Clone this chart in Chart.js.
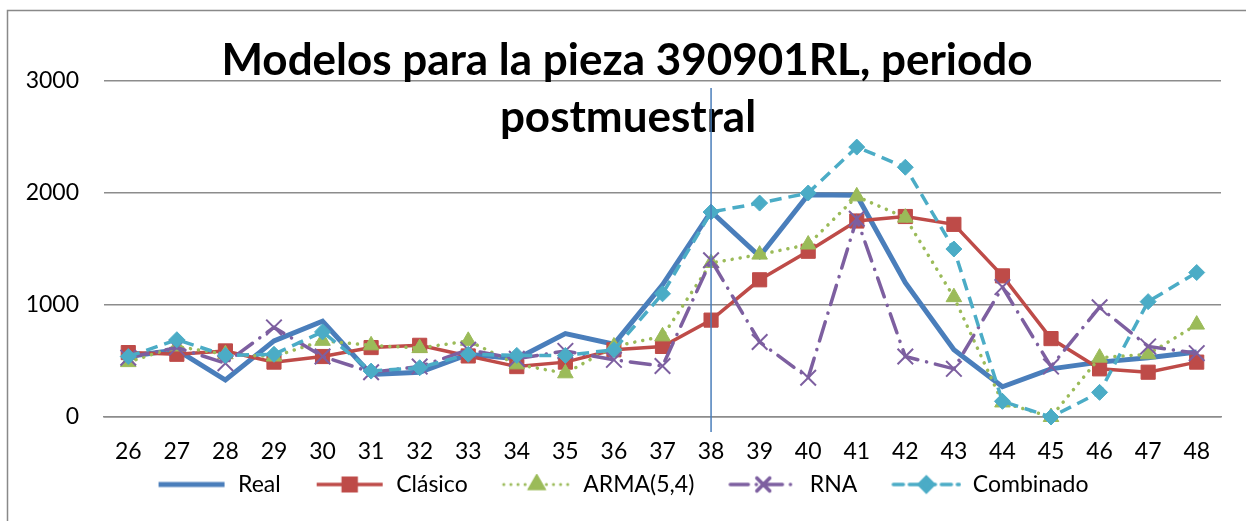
<!DOCTYPE html>
<html>
<head>
<meta charset="utf-8">
<script src="https://cdn.jsdelivr.net/npm/chart.js@4/dist/chart.umd.min.js"></script>
<style>
  html, body { margin: 0; padding: 0; background: #fff; }
  #grafico { display: block; }
</style>
</head>
<body>
<canvas id="grafico" width="1246" height="521"></canvas>
<script>
// Periodos postmuestrales (eje x)
var periodos = ["26", "27", "28", "29", "30", "31", "32", "33", "34", "35", "36", "37",
                "38", "39", "40", "41", "42", "43", "44", "45", "46", "47", "48"];

// Series de cada modelo
var real      = [540, 600, 330, 680, 855, 380, 400, 560, 520, 745, 650, 1180,
                 1835, 1435, 1985, 1980, 1200, 600, 270, 430, 490, 530, 580];
var clasico   = [575, 560, 590, 490, 540, 620, 640, 545, 450, 490, 600, 630,
                 865, 1225, 1480, 1750, 1790, 1720, 1260, 700, 430, 400, 490];
var arma      = [490, 630, 560, 540, 680, 640, 615, 680, 470, 390, 630, 720,
                 1375, 1450, 1540, 1970, 1780, 1070, 130, 0, 530, 560, 825];
var rna       = [530, 620, 480, 800, 540, 400, 450, 600, 520, 590, 510, 455,
                 1400, 670, 350, 1770, 540, 430, 1160, 450, 980, 630, 570];
var combinado = [540, 690, 550, 560, 760, 410, 440, 560, 550, 550, 600, 1100,
                 1830, 1910, 2000, 2410, 2230, 1500, 140, 0, 220, 1030, 1290];

var ticksY = [0, 1000, 2000, 3000];
var periodoCorte = "38";

var fuente = "Lato, 'Open Sans', sans-serif";

// Icono de leyenda: trazo de la serie con su marcador en medio
// (los 24 px de la izquierda quedan vacíos para separar las entradas)
function iconoLeyenda(color, grosor, trazos, marcador, radio) {
  var c = document.createElement("canvas");
  c.width = 94;
  c.height = 22;
  var ctx = c.getContext("2d");
  ctx.strokeStyle = color;
  ctx.fillStyle = color;
  ctx.lineWidth = grosor;
  ctx.lineCap = trazos.length ? "round" : "butt";
  ctx.setLineDash(trazos);
  ctx.beginPath();
  ctx.moveTo(26, 11);
  ctx.lineTo(92, 11);
  ctx.stroke();
  ctx.setLineDash([]);
  if (marcador) {
    Chart.helpers.drawPoint(ctx, {
      pointStyle: marcador, radius: radio, rotation: 0,
      borderWidth: marcador === "crossRot" ? 2 : 1
    }, 59, 11);
    ctx.fill();
    ctx.stroke();
  }
  return c;
}

var iconos = [
  iconoLeyenda("#4A7EBB", 5, [], null, 0),
  iconoLeyenda("#BE4B48", 3.5, [], "rect", 9),
  iconoLeyenda("#9BBB59", 3, [0.1, 7], "triangle", 8),
  iconoLeyenda("#7D5FA0", 3.5, [18, 8, 0.1, 8], "crossRot", 9),
  iconoLeyenda("#4BACC6", 3.5, [10, 6], "rectRot", 7)
];

// Marco, título superpuesto y línea vertical del corte
var decoracion = {
  id: "decoracion",
  afterDatasetsDraw: function(chart) {
    var ctx = chart.ctx;
    var area = chart.chartArea;
    ctx.save();

    ctx.fillStyle = "#000";
    ctx.font = "bold 44px " + fuente;
    ctx.textAlign = "center";
    ctx.textBaseline = "alphabetic";
    ctx.fillText("Modelos para la pieza 390901RL, periodo", 627, 75);
    ctx.fillText("postmuestral", 628, 132);

    var x = chart.scales.x.getPixelForValue(periodos.indexOf(periodoCorte));
    ctx.strokeStyle = "#4A7EBB";
    ctx.lineWidth = 1.5;
    ctx.beginPath();
    ctx.moveTo(x, area.top + 7);
    ctx.lineTo(x, area.bottom + 15);
    ctx.stroke();

    ctx.strokeStyle = "#898989";
    ctx.lineWidth = 1.5;
    ctx.beginPath();
    ctx.moveTo(7.5, chart.height);
    ctx.lineTo(7.5, 10.5);
    ctx.lineTo(chart.width, 10.5);
    ctx.stroke();
    ctx.restore();
  }
};

var grafico = new Chart(document.getElementById("grafico"), {
  type: "line",
  data: {
    labels: periodos,
    datasets: [
      {
        label: "Real",
        data: real,
        borderColor: "#4A7EBB",
        backgroundColor: "#4A7EBB",
        borderWidth: 5,
        pointRadius: 0,
        order: 5
      },
      {
        label: "Clásico",
        data: clasico,
        borderColor: "#BE4B48",
        backgroundColor: "#BE4B48",
        borderWidth: 3.5,
        pointStyle: "rect",
        pointRadius: 10,
        pointBorderWidth: 1,
        order: 4
      },
      {
        label: "ARMA(5,4)",
        data: arma,
        borderColor: "#9BBB59",
        backgroundColor: "#9BBB59",
        borderWidth: 3.5,
        borderDash: [0.1, 8],
        borderCapStyle: "round",
        pointStyle: "triangle",
        pointRadius: 9,
        pointBorderWidth: 1,
        order: 3
      },
      {
        label: "RNA",
        data: rna,
        borderColor: "#7D5FA0",
        backgroundColor: "#7D5FA0",
        borderWidth: 3.5,
        borderDash: [20, 9, 0.1, 9],
        borderCapStyle: "round",
        pointStyle: "crossRot",
        pointRadius: 11,
        pointBorderWidth: 2,
        order: 2
      },
      {
        label: "Combinado",
        data: combinado,
        borderColor: "#4BACC6",
        backgroundColor: "#4BACC6",
        borderWidth: 3.5,
        borderDash: [12, 7],
        pointStyle: "rectRot",
        pointRadius: 8,
        pointBorderWidth: 1,
        order: 1
      }
    ]
  },
  options: {
    responsive: false,
    animation: false,
    devicePixelRatio: 1,
    datasets: { line: { tension: 0, fill: false, clip: false } },
    layout: { padding: { left: 0, right: 25, top: 81, bottom: 15 } },
    scales: {
      x: {
        offset: true,
        grid: { display: false, drawTicks: false },
        border: { display: true, color: "#8c8c8c", width: 1.5 },
        ticks: { color: "#000", font: { family: fuente, size: 23 }, padding: 21, maxRotation: 0, autoSkip: false },
        afterFit: function(scale) { scale.height = 46; }
      },
      y: {
        min: 0,
        max: 3000,
        afterBuildTicks: function(scale) {
          scale.ticks = ticksY.map(function(v) { return { value: v }; });
        },
        grid: { color: "#8c8c8c", lineWidth: 1.5, drawTicks: false },
        border: { display: false },
        ticks: {
          color: "#000",
          font: { family: fuente, size: 23 },
          padding: 25,
          callback: function(valor) { return String(valor); }
        },
        afterFit: function(scale) { scale.width = 104; }
      }
    },
    plugins: {
      title: { display: false },
      tooltip: { enabled: false },
      legend: {
        position: "bottom",
        labels: {
          usePointStyle: true,
          pointStyleWidth: 94,
          padding: 10,
          color: "#000",
          font: { family: fuente, size: 23 },
          sort: function(a, b) { return a.datasetIndex - b.datasetIndex; },
          generateLabels: function(chart) {
            var items = Chart.defaults.plugins.legend.labels.generateLabels(chart);
            items.forEach(function(item) {
              item.pointStyle = iconos[item.datasetIndex];
            });
            return items;
          }
        }
      }
    }
  },
  plugins: [decoracion]
});
</script>
</body>
</html>
